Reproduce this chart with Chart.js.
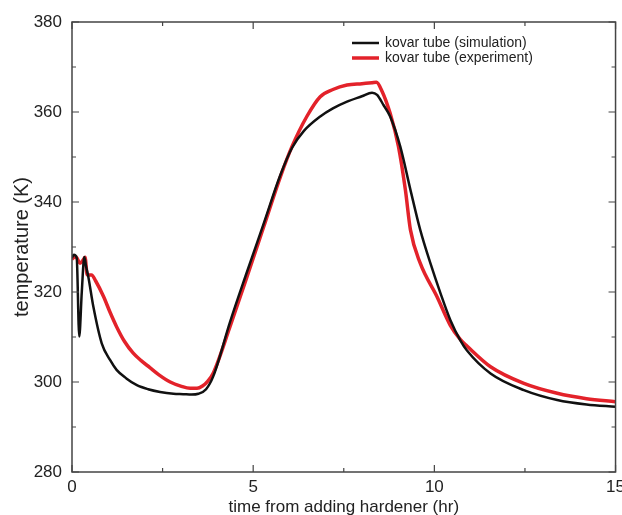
<!DOCTYPE html>
<html>
<head>
<meta charset="utf-8">
<script src="https://cdn.jsdelivr.net/npm/chart.js@4/dist/chart.umd.min.js"></script>
<style>
  html, body { margin: 0; padding: 0; overflow: hidden; background: #fff; }
  #wrap { position: absolute; left: 0; top: 0; width: 630px; height: 520px; }
</style>
</head>
<body>
<div id="wrap"><canvas id="temp-chart"></canvas></div>
<script>
// kovar tube (simulation)
const simTime = [0, 0.05, 0.13, 0.2, 0.27, 0.34, 0.39, 0.45, 0.59, 0.82, 1.05, 1.23, 1.5, 1.79, 2.1, 2.43, 2.8,
  3.07, 3.3, 3.49, 3.7, 3.9, 4.36, 4.83, 5.29, 5.75, 6.07, 6.4, 6.85, 7.2, 7.59, 8.0, 8.28, 8.42, 8.6,
  8.78, 9.06, 9.34, 9.61, 9.89, 10.17, 10.44, 10.72, 10.9, 11.55, 12.47, 13.39, 14.2, 15];
const simTemp = [327.6, 328.3, 327.6, 310.1, 320.0, 327.8, 325.6, 323.4, 316.7, 308.6, 304.9, 302.7, 300.8, 299.3, 298.4, 297.8, 297.4,
  297.3, 297.2, 297.4, 298.4, 301.3, 313.3, 324.5, 335.2, 346.0, 352.0, 355.8, 359.0, 360.8, 362.3, 363.5, 364.3, 363.8, 361.5,
  359.0, 352.3, 342.7, 333.8, 326.4, 319.7, 313.8, 309.2, 307.0, 301.9, 298.2, 296.0, 295.0, 294.5];

// kovar tube (experiment)
const expTime = [0, 0.1, 0.16, 0.22, 0.3, 0.36, 0.42, 0.54, 0.65, 0.87, 1.05, 1.23, 1.45, 1.69, 1.9, 2.15, 2.4,
  2.71, 3.0, 3.26, 3.45, 3.6, 3.75, 3.9, 4.36, 4.83, 5.29, 5.75, 6.07, 6.48, 6.85, 7.2, 7.59, 8.0, 8.28,
  8.4, 8.54, 8.78, 9.01, 9.2, 9.34, 9.61, 10.07, 10.44, 10.72, 10.9, 11.55, 12.47, 13.39, 14.2, 15];
const expTemp = [327.3, 327.9, 327.2, 326.4, 327.0, 327.7, 323.8, 323.8, 322.5, 319.0, 315.5, 312.3, 309.0, 306.4, 304.8, 303.2, 301.6,
  300.0, 299.1, 298.6, 298.6, 299.1, 300.2, 302.0, 312.3, 323.4, 334.5, 345.6, 352.3, 359.0, 363.4, 365.0, 366.0, 366.3, 366.5,
  366.6, 364.9, 359.7, 352.3, 342.7, 333.8, 326.4, 319.0, 312.6, 309.4, 308.0, 303.4, 299.7, 297.5, 296.3, 295.6];

const xMajorTicks = [0, 5, 10, 15];
const xMinorTicks = [2.5, 7.5, 12.5];
const yMajorTicks = [280, 300, 320, 340, 360, 380];
const yMinorTicks = [290, 310, 330, 350, 370];

const FONT = "'Liberation Sans', Arial, Helvetica, sans-serif";

const frameTicks = {
  id: 'frameTicks',
  afterDatasetsDraw(chart) {
    const { ctx, chartArea: a, scales: { x, y } } = chart;
    ctx.save();
    ctx.strokeStyle = '#444';
    ctx.lineWidth = 1.5;
    ctx.strokeRect(a.left, a.top, a.right - a.left, a.bottom - a.top);
    ctx.lineWidth = 1.2;
    ctx.beginPath();
    const xt = (v, len) => {
      const px = x.getPixelForValue(v);
      ctx.moveTo(px, a.bottom); ctx.lineTo(px, a.bottom - len);
      ctx.moveTo(px, a.top); ctx.lineTo(px, a.top + len);
    };
    const yt = (v, len) => {
      const py = y.getPixelForValue(v);
      ctx.moveTo(a.left, py); ctx.lineTo(a.left + len, py);
      ctx.moveTo(a.right, py); ctx.lineTo(a.right - len, py);
    };
    xMajorTicks.forEach(v => xt(v, 7));
    xMinorTicks.forEach(v => xt(v, 4));
    yMajorTicks.forEach(v => yt(v, 7));
    yMinorTicks.forEach(v => yt(v, 4));
    ctx.stroke();
    ctx.restore();
  }
};

const insideLegend = {
  id: 'insideLegend',
  afterDraw(chart) {
    const { ctx } = chart;
    ctx.save();
    ctx.font = '14px ' + FONT;
    ctx.textBaseline = 'middle';
    chart.data.datasets.forEach((ds, i) => {
      const yy = 43 + i * 15;
      ctx.strokeStyle = ds.borderColor;
      ctx.lineWidth = ds.borderWidth;
      ctx.beginPath();
      ctx.moveTo(352, yy); ctx.lineTo(379, yy);
      ctx.stroke();
      ctx.fillStyle = '#222';
      ctx.fillText(ds.label, 385, yy);
    });
    ctx.restore();
  }
};

new Chart(document.getElementById('temp-chart'), {
  type: 'line',
  data: {
    datasets: [{
      label: 'kovar tube (simulation)',
      data: simTime.map((t, i) => ({ x: t, y: simTemp[i] })),
      borderColor: '#111111',
      borderWidth: 2.5,
      pointRadius: 0,
      cubicInterpolationMode: 'monotone',
      fill: false
    }, {
      label: 'kovar tube (experiment)',
      data: expTime.map((t, i) => ({ x: t, y: expTemp[i] })),
      borderColor: '#e3222a',
      borderWidth: 3.5,
      pointRadius: 0,
      cubicInterpolationMode: 'monotone',
      fill: false
    }]
  },
  options: {
    responsive: true,
    maintainAspectRatio: false,
    animation: false,
    layout: { padding: { top: 22, left: 0, right: 0, bottom: 0 } },
    plugins: {
      legend: { display: false },
      tooltip: { enabled: false }
    },
    scales: {
      x: {
        type: 'linear',
        min: 0,
        max: 15,
        afterFit: s => { s.height = 48; },
        grid: { display: false, drawTicks: false },
        border: { display: false },
        ticks: { stepSize: 5, padding: 5, color: '#222', font: { family: FONT, size: 17 } },
        title: {
          display: true,
          text: 'time from adding hardener (hr)',
          color: '#222',
          font: { family: FONT, size: 17 },
          padding: { top: 0, bottom: 2 }
        }
      },
      y: {
        min: 280,
        max: 380,
        afterFit: s => { s.width = 72; },
        grid: { display: false, drawTicks: false },
        border: { display: false },
        ticks: { stepSize: 20, padding: 10, color: '#222', font: { family: FONT, size: 17 } },
        title: {
          display: true,
          text: 'temperature (K)',
          color: '#222',
          font: { family: FONT, size: 20 },
          padding: { top: 10, bottom: 0 }
        }
      }
    }
  },
  plugins: [frameTicks, insideLegend]
});
</script>
</body>
</html>
